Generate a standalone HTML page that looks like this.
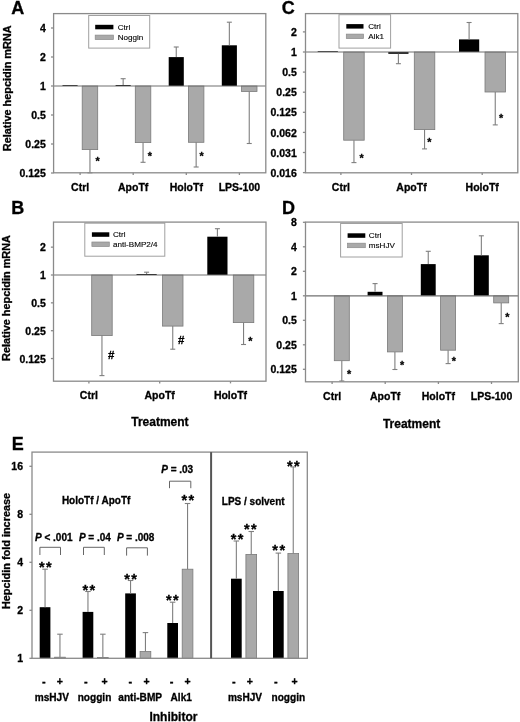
<!DOCTYPE html>
<html><head><meta charset="utf-8"><style>
html,body{margin:0;padding:0;background:#fff;}
body{width:520px;height:722px;overflow:hidden;}
svg{display:block;font-family:"Liberation Sans", sans-serif;filter:grayscale(100%);}
text{stroke:#000;stroke-width:0.3;paint-order:stroke;}
text.lg{stroke-width:0.12;}
</style></head><body>
<svg width="520" height="722" viewBox="0 0 520 722">
<rect width="520" height="722" fill="#fff"/>
<text x="11.30" y="14.20" font-size="18" text-anchor="start" font-weight="bold" font-style="normal" fill="#000">A</text>
<rect x="88.70" y="15.50" width="61.00" height="32.60" fill="#fff" stroke="#a0a0a0" stroke-width="1"/>
<rect x="95.20" y="24.80" width="18.20" height="4.50" fill="#000"/>
<rect x="95.20" y="35.10" width="18.20" height="4.50" fill="#a9a9a9" stroke="#8a8a8a" stroke-width="0.7"/>
<text x="117.70" y="29.95" font-size="8.1" text-anchor="start" font-weight="normal" font-style="normal" fill="#000" class="lg">Ctrl</text>
<text x="117.70" y="40.25" font-size="8.1" text-anchor="start" font-weight="normal" font-style="normal" fill="#000" class="lg">Noggin</text>
<text x="0" y="0" font-size="10.9" text-anchor="middle" font-weight="bold" transform="translate(11.30,88.30) rotate(-90)">Relative hepcidin mRNA</text>
<rect x="62.50" y="85.10" width="15.10" height="0.90" fill="#000"/>
<rect x="82.20" y="86.00" width="15.50" height="63.60" fill="#a9a9a9" stroke="#7a7a7a" stroke-width="0.8"/>
<line x1="89.95" y1="149.60" x2="89.95" y2="172.80" stroke="#7f7f7f" stroke-width="1.1"/>
<line x1="87.45" y1="172.80" x2="92.45" y2="172.80" stroke="#7f7f7f" stroke-width="1.1"/>
<rect x="115.60" y="85.00" width="15.10" height="1.00" fill="#000"/>
<line x1="123.15" y1="85.00" x2="123.15" y2="78.70" stroke="#7f7f7f" stroke-width="1.1"/>
<line x1="120.65" y1="78.70" x2="125.65" y2="78.70" stroke="#7f7f7f" stroke-width="1.1"/>
<rect x="135.30" y="86.00" width="15.50" height="56.60" fill="#a9a9a9" stroke="#7a7a7a" stroke-width="0.8"/>
<line x1="143.05" y1="142.60" x2="143.05" y2="162.30" stroke="#7f7f7f" stroke-width="1.1"/>
<line x1="140.55" y1="162.30" x2="145.55" y2="162.30" stroke="#7f7f7f" stroke-width="1.1"/>
<rect x="168.70" y="57.10" width="15.10" height="28.90" fill="#000"/>
<line x1="176.25" y1="57.10" x2="176.25" y2="47.00" stroke="#7f7f7f" stroke-width="1.1"/>
<line x1="173.75" y1="47.00" x2="178.75" y2="47.00" stroke="#7f7f7f" stroke-width="1.1"/>
<rect x="188.40" y="86.00" width="15.50" height="56.30" fill="#a9a9a9" stroke="#7a7a7a" stroke-width="0.8"/>
<line x1="196.15" y1="142.30" x2="196.15" y2="167.00" stroke="#7f7f7f" stroke-width="1.1"/>
<line x1="193.65" y1="167.00" x2="198.65" y2="167.00" stroke="#7f7f7f" stroke-width="1.1"/>
<rect x="221.80" y="45.30" width="15.10" height="40.70" fill="#000"/>
<line x1="229.35" y1="45.30" x2="229.35" y2="22.20" stroke="#7f7f7f" stroke-width="1.1"/>
<line x1="226.85" y1="22.20" x2="231.85" y2="22.20" stroke="#7f7f7f" stroke-width="1.1"/>
<rect x="241.50" y="86.00" width="15.50" height="5.50" fill="#a9a9a9" stroke="#7a7a7a" stroke-width="0.8"/>
<line x1="249.25" y1="91.50" x2="249.25" y2="143.50" stroke="#7f7f7f" stroke-width="1.1"/>
<line x1="246.75" y1="143.50" x2="251.75" y2="143.50" stroke="#7f7f7f" stroke-width="1.1"/>
<line x1="53.60" y1="86.00" x2="265.80" y2="86.00" stroke="#707070" stroke-width="1.2"/>
<rect x="53.60" y="13.60" width="212.20" height="159.20" fill="none" stroke="#8a8a8a" stroke-width="1.3"/>
<line x1="51.00" y1="28.00" x2="53.60" y2="28.00" stroke="#8a8a8a" stroke-width="1.3"/>
<text x="45.80" y="32.10" font-size="10.5" text-anchor="end" font-weight="bold" font-style="normal" fill="#000">4</text>
<line x1="51.00" y1="57.00" x2="53.60" y2="57.00" stroke="#8a8a8a" stroke-width="1.3"/>
<text x="45.80" y="61.10" font-size="10.5" text-anchor="end" font-weight="bold" font-style="normal" fill="#000">2</text>
<line x1="51.00" y1="86.00" x2="53.60" y2="86.00" stroke="#8a8a8a" stroke-width="1.3"/>
<text x="45.80" y="90.10" font-size="10.5" text-anchor="end" font-weight="bold" font-style="normal" fill="#000">1</text>
<line x1="51.00" y1="115.00" x2="53.60" y2="115.00" stroke="#8a8a8a" stroke-width="1.3"/>
<text x="45.80" y="119.10" font-size="10.5" text-anchor="end" font-weight="bold" font-style="normal" fill="#000">0.5</text>
<line x1="51.00" y1="144.00" x2="53.60" y2="144.00" stroke="#8a8a8a" stroke-width="1.3"/>
<text x="45.80" y="148.10" font-size="10.5" text-anchor="end" font-weight="bold" font-style="normal" fill="#000">0.25</text>
<line x1="51.00" y1="173.00" x2="53.60" y2="173.00" stroke="#8a8a8a" stroke-width="1.3"/>
<text x="45.80" y="177.10" font-size="10.5" text-anchor="end" font-weight="bold" font-style="normal" fill="#000">0.125</text>
<line x1="80.10" y1="172.80" x2="80.10" y2="175.00" stroke="#8a8a8a" stroke-width="1.3"/>
<text x="80.10" y="190.60" font-size="10.5" text-anchor="middle" font-weight="bold" font-style="normal" fill="#000">Ctrl</text>
<line x1="133.20" y1="172.80" x2="133.20" y2="175.00" stroke="#8a8a8a" stroke-width="1.3"/>
<text x="133.20" y="190.60" font-size="10.5" text-anchor="middle" font-weight="bold" font-style="normal" fill="#000">ApoTf</text>
<line x1="186.30" y1="172.80" x2="186.30" y2="175.00" stroke="#8a8a8a" stroke-width="1.3"/>
<text x="186.30" y="190.60" font-size="10.5" text-anchor="middle" font-weight="bold" font-style="normal" fill="#000">HoloTf</text>
<line x1="239.40" y1="172.80" x2="239.40" y2="175.00" stroke="#8a8a8a" stroke-width="1.3"/>
<text x="239.40" y="190.60" font-size="10.5" text-anchor="middle" font-weight="bold" font-style="normal" fill="#000">LPS-100</text>
<text x="97.70" y="164.92" font-size="10.8" text-anchor="middle" font-weight="bold" font-style="normal" fill="#000">*</text>
<text x="149.80" y="159.62" font-size="10.8" text-anchor="middle" font-weight="bold" font-style="normal" fill="#000">*</text>
<text x="201.70" y="160.42" font-size="10.8" text-anchor="middle" font-weight="bold" font-style="normal" fill="#000">*</text>
<text x="281.80" y="14.00" font-size="18" text-anchor="start" font-weight="bold" font-style="normal" fill="#000">C</text>
<rect x="339.00" y="14.70" width="51.60" height="33.40" fill="#fff" stroke="#a0a0a0" stroke-width="1"/>
<rect x="346.30" y="24.10" width="17.20" height="4.50" fill="#000"/>
<rect x="346.30" y="34.10" width="17.20" height="4.50" fill="#a9a9a9" stroke="#8a8a8a" stroke-width="0.7"/>
<text x="368.20" y="29.25" font-size="8.1" text-anchor="start" font-weight="normal" font-style="normal" fill="#000" class="lg">Ctrl</text>
<text x="368.20" y="39.25" font-size="8.1" text-anchor="start" font-weight="normal" font-style="normal" fill="#000" class="lg">Alk1</text>
<rect x="317.70" y="51.20" width="20.20" height="0.80" fill="#000"/>
<rect x="343.70" y="52.00" width="20.50" height="88.20" fill="#a9a9a9" stroke="#7a7a7a" stroke-width="0.8"/>
<line x1="353.95" y1="140.20" x2="353.95" y2="162.60" stroke="#7f7f7f" stroke-width="1.1"/>
<line x1="351.45" y1="162.60" x2="356.45" y2="162.60" stroke="#7f7f7f" stroke-width="1.1"/>
<rect x="388.30" y="52.00" width="20.20" height="1.80" fill="#000"/>
<line x1="398.40" y1="53.80" x2="398.40" y2="63.70" stroke="#7f7f7f" stroke-width="1.1"/>
<line x1="395.90" y1="63.70" x2="400.90" y2="63.70" stroke="#7f7f7f" stroke-width="1.1"/>
<rect x="414.30" y="52.00" width="20.50" height="77.60" fill="#a9a9a9" stroke="#7a7a7a" stroke-width="0.8"/>
<line x1="424.55" y1="129.60" x2="424.55" y2="148.90" stroke="#7f7f7f" stroke-width="1.1"/>
<line x1="422.05" y1="148.90" x2="427.05" y2="148.90" stroke="#7f7f7f" stroke-width="1.1"/>
<rect x="459.00" y="39.40" width="20.20" height="12.60" fill="#000"/>
<line x1="469.10" y1="39.40" x2="469.10" y2="22.50" stroke="#7f7f7f" stroke-width="1.1"/>
<line x1="466.60" y1="22.50" x2="471.60" y2="22.50" stroke="#7f7f7f" stroke-width="1.1"/>
<rect x="485.00" y="52.00" width="20.50" height="40.00" fill="#a9a9a9" stroke="#7a7a7a" stroke-width="0.8"/>
<line x1="495.25" y1="92.00" x2="495.25" y2="124.90" stroke="#7f7f7f" stroke-width="1.1"/>
<line x1="492.75" y1="124.90" x2="497.75" y2="124.90" stroke="#7f7f7f" stroke-width="1.1"/>
<line x1="305.50" y1="52.00" x2="517.80" y2="52.00" stroke="#707070" stroke-width="1.2"/>
<rect x="305.50" y="13.60" width="212.30" height="159.20" fill="none" stroke="#8a8a8a" stroke-width="1.3"/>
<line x1="302.90" y1="31.90" x2="305.50" y2="31.90" stroke="#8a8a8a" stroke-width="1.3"/>
<text x="296.80" y="36.00" font-size="10.5" text-anchor="end" font-weight="bold" font-style="normal" fill="#000">2</text>
<line x1="302.90" y1="52.00" x2="305.50" y2="52.00" stroke="#8a8a8a" stroke-width="1.3"/>
<text x="296.80" y="56.10" font-size="10.5" text-anchor="end" font-weight="bold" font-style="normal" fill="#000">1</text>
<line x1="302.90" y1="72.10" x2="305.50" y2="72.10" stroke="#8a8a8a" stroke-width="1.3"/>
<text x="296.80" y="76.20" font-size="10.5" text-anchor="end" font-weight="bold" font-style="normal" fill="#000">0.5</text>
<line x1="302.90" y1="92.20" x2="305.50" y2="92.20" stroke="#8a8a8a" stroke-width="1.3"/>
<text x="296.80" y="96.30" font-size="10.5" text-anchor="end" font-weight="bold" font-style="normal" fill="#000">0.25</text>
<line x1="302.90" y1="112.30" x2="305.50" y2="112.30" stroke="#8a8a8a" stroke-width="1.3"/>
<text x="296.80" y="116.40" font-size="10.5" text-anchor="end" font-weight="bold" font-style="normal" fill="#000">0.125</text>
<line x1="302.90" y1="132.40" x2="305.50" y2="132.40" stroke="#8a8a8a" stroke-width="1.3"/>
<text x="296.80" y="136.50" font-size="10.5" text-anchor="end" font-weight="bold" font-style="normal" fill="#000">0.062</text>
<line x1="302.90" y1="152.50" x2="305.50" y2="152.50" stroke="#8a8a8a" stroke-width="1.3"/>
<text x="296.80" y="156.60" font-size="10.5" text-anchor="end" font-weight="bold" font-style="normal" fill="#000">0.031</text>
<line x1="302.90" y1="172.60" x2="305.50" y2="172.60" stroke="#8a8a8a" stroke-width="1.3"/>
<text x="296.80" y="176.70" font-size="10.5" text-anchor="end" font-weight="bold" font-style="normal" fill="#000">0.016</text>
<line x1="340.90" y1="172.80" x2="340.90" y2="175.00" stroke="#8a8a8a" stroke-width="1.3"/>
<text x="340.90" y="190.60" font-size="10.5" text-anchor="middle" font-weight="bold" font-style="normal" fill="#000">Ctrl</text>
<line x1="411.50" y1="172.80" x2="411.50" y2="175.00" stroke="#8a8a8a" stroke-width="1.3"/>
<text x="411.50" y="190.60" font-size="10.5" text-anchor="middle" font-weight="bold" font-style="normal" fill="#000">ApoTf</text>
<line x1="482.20" y1="172.80" x2="482.20" y2="175.00" stroke="#8a8a8a" stroke-width="1.3"/>
<text x="482.20" y="190.60" font-size="10.5" text-anchor="middle" font-weight="bold" font-style="normal" fill="#000">HoloTf</text>
<text x="361.60" y="161.92" font-size="10.8" text-anchor="middle" font-weight="bold" font-style="normal" fill="#000">*</text>
<text x="429.40" y="146.12" font-size="10.8" text-anchor="middle" font-weight="bold" font-style="normal" fill="#000">*</text>
<text x="501.20" y="121.82" font-size="10.8" text-anchor="middle" font-weight="bold" font-style="normal" fill="#000">*</text>
<text x="11.20" y="214.10" font-size="18" text-anchor="start" font-weight="bold" font-style="normal" fill="#000">B</text>
<rect x="84.80" y="223.20" width="80.00" height="33.00" fill="#fff" stroke="#a0a0a0" stroke-width="1"/>
<rect x="91.90" y="232.30" width="17.40" height="4.50" fill="#000"/>
<rect x="91.90" y="242.00" width="17.40" height="4.50" fill="#a9a9a9" stroke="#8a8a8a" stroke-width="0.7"/>
<text x="113.00" y="237.45" font-size="8.1" text-anchor="start" font-weight="normal" font-style="normal" fill="#000" class="lg">Ctrl</text>
<text x="113.00" y="247.15" font-size="8.1" text-anchor="start" font-weight="normal" font-style="normal" fill="#000" class="lg">anti-BMP2/4</text>
<text x="0" y="0" font-size="10.9" text-anchor="middle" font-weight="bold" transform="translate(9.90,298.00) rotate(-90)">Relative hepcidin mRNA</text>
<rect x="91.70" y="275.00" width="20.50" height="60.60" fill="#a9a9a9" stroke="#7a7a7a" stroke-width="0.8"/>
<line x1="101.95" y1="335.60" x2="101.95" y2="375.60" stroke="#7f7f7f" stroke-width="1.1"/>
<line x1="99.45" y1="375.60" x2="104.45" y2="375.60" stroke="#7f7f7f" stroke-width="1.1"/>
<rect x="136.50" y="274.00" width="20.20" height="1.00" fill="#000"/>
<line x1="146.60" y1="274.00" x2="146.60" y2="272.20" stroke="#7f7f7f" stroke-width="1.1"/>
<line x1="144.10" y1="272.20" x2="149.10" y2="272.20" stroke="#7f7f7f" stroke-width="1.1"/>
<rect x="162.50" y="275.00" width="20.50" height="51.10" fill="#a9a9a9" stroke="#7a7a7a" stroke-width="0.8"/>
<line x1="172.75" y1="326.10" x2="172.75" y2="349.20" stroke="#7f7f7f" stroke-width="1.1"/>
<line x1="170.25" y1="349.20" x2="175.25" y2="349.20" stroke="#7f7f7f" stroke-width="1.1"/>
<rect x="207.30" y="236.70" width="20.20" height="38.30" fill="#000"/>
<line x1="217.40" y1="236.70" x2="217.40" y2="228.70" stroke="#7f7f7f" stroke-width="1.1"/>
<line x1="214.90" y1="228.70" x2="219.90" y2="228.70" stroke="#7f7f7f" stroke-width="1.1"/>
<rect x="233.30" y="275.00" width="20.50" height="47.60" fill="#a9a9a9" stroke="#7a7a7a" stroke-width="0.8"/>
<line x1="243.55" y1="322.60" x2="243.55" y2="344.50" stroke="#7f7f7f" stroke-width="1.1"/>
<line x1="241.05" y1="344.50" x2="246.05" y2="344.50" stroke="#7f7f7f" stroke-width="1.1"/>
<line x1="53.50" y1="275.00" x2="266.00" y2="275.00" stroke="#707070" stroke-width="1.2"/>
<rect x="53.50" y="222.10" width="212.50" height="159.10" fill="none" stroke="#8a8a8a" stroke-width="1.3"/>
<line x1="50.90" y1="247.15" x2="53.50" y2="247.15" stroke="#8a8a8a" stroke-width="1.3"/>
<text x="45.80" y="251.25" font-size="10.5" text-anchor="end" font-weight="bold" font-style="normal" fill="#000">2</text>
<line x1="50.90" y1="275.00" x2="53.50" y2="275.00" stroke="#8a8a8a" stroke-width="1.3"/>
<text x="45.80" y="279.10" font-size="10.5" text-anchor="end" font-weight="bold" font-style="normal" fill="#000">1</text>
<line x1="50.90" y1="302.85" x2="53.50" y2="302.85" stroke="#8a8a8a" stroke-width="1.3"/>
<text x="45.80" y="306.95" font-size="10.5" text-anchor="end" font-weight="bold" font-style="normal" fill="#000">0.5</text>
<line x1="50.90" y1="330.70" x2="53.50" y2="330.70" stroke="#8a8a8a" stroke-width="1.3"/>
<text x="45.80" y="334.80" font-size="10.5" text-anchor="end" font-weight="bold" font-style="normal" fill="#000">0.25</text>
<line x1="50.90" y1="358.55" x2="53.50" y2="358.55" stroke="#8a8a8a" stroke-width="1.3"/>
<text x="45.80" y="362.65" font-size="10.5" text-anchor="end" font-weight="bold" font-style="normal" fill="#000">0.125</text>
<line x1="88.90" y1="381.20" x2="88.90" y2="383.40" stroke="#8a8a8a" stroke-width="1.3"/>
<text x="88.90" y="399.40" font-size="10.5" text-anchor="middle" font-weight="bold" font-style="normal" fill="#000">Ctrl</text>
<line x1="159.70" y1="381.20" x2="159.70" y2="383.40" stroke="#8a8a8a" stroke-width="1.3"/>
<text x="159.70" y="399.40" font-size="10.5" text-anchor="middle" font-weight="bold" font-style="normal" fill="#000">ApoTf</text>
<line x1="230.50" y1="381.20" x2="230.50" y2="383.40" stroke="#8a8a8a" stroke-width="1.3"/>
<text x="230.50" y="399.40" font-size="10.5" text-anchor="middle" font-weight="bold" font-style="normal" fill="#000">HoloTf</text>
<text x="111.20" y="358.81" font-size="11.5" text-anchor="middle" font-weight="bold" font-style="normal" fill="#000">#</text>
<text x="181.20" y="343.61" font-size="11.5" text-anchor="middle" font-weight="bold" font-style="normal" fill="#000">#</text>
<text x="250.40" y="344.72" font-size="10.8" text-anchor="middle" font-weight="bold" font-style="normal" fill="#000">*</text>
<text x="159.90" y="426.30" font-size="12" text-anchor="middle" font-weight="bold" font-style="normal" fill="#000">Treatment</text>
<text x="281.90" y="213.90" font-size="18" text-anchor="start" font-weight="bold" font-style="normal" fill="#000">D</text>
<rect x="340.60" y="223.50" width="61.60" height="33.50" fill="#fff" stroke="#a0a0a0" stroke-width="1"/>
<rect x="347.60" y="233.30" width="17.70" height="4.50" fill="#000"/>
<rect x="347.60" y="243.20" width="17.70" height="4.50" fill="#a9a9a9" stroke="#8a8a8a" stroke-width="0.7"/>
<text x="368.80" y="238.45" font-size="8.1" text-anchor="start" font-weight="normal" font-style="normal" fill="#000" class="lg">Ctrl</text>
<text x="368.80" y="248.35" font-size="8.1" text-anchor="start" font-weight="normal" font-style="normal" fill="#000" class="lg">msHJV</text>
<rect x="334.30" y="295.80" width="15.00" height="64.90" fill="#a9a9a9" stroke="#7a7a7a" stroke-width="0.8"/>
<line x1="341.80" y1="360.70" x2="341.80" y2="381.00" stroke="#7f7f7f" stroke-width="1.1"/>
<line x1="339.30" y1="381.00" x2="344.30" y2="381.00" stroke="#7f7f7f" stroke-width="1.1"/>
<rect x="367.60" y="291.80" width="14.90" height="4.00" fill="#000"/>
<line x1="375.05" y1="291.80" x2="375.05" y2="283.60" stroke="#7f7f7f" stroke-width="1.1"/>
<line x1="372.55" y1="283.60" x2="377.55" y2="283.60" stroke="#7f7f7f" stroke-width="1.1"/>
<rect x="387.40" y="295.80" width="15.00" height="56.10" fill="#a9a9a9" stroke="#7a7a7a" stroke-width="0.8"/>
<line x1="394.90" y1="351.90" x2="394.90" y2="369.50" stroke="#7f7f7f" stroke-width="1.1"/>
<line x1="392.40" y1="369.50" x2="397.40" y2="369.50" stroke="#7f7f7f" stroke-width="1.1"/>
<rect x="420.80" y="264.10" width="14.90" height="31.70" fill="#000"/>
<line x1="428.25" y1="264.10" x2="428.25" y2="251.30" stroke="#7f7f7f" stroke-width="1.1"/>
<line x1="425.75" y1="251.30" x2="430.75" y2="251.30" stroke="#7f7f7f" stroke-width="1.1"/>
<rect x="440.60" y="295.80" width="15.00" height="54.40" fill="#a9a9a9" stroke="#7a7a7a" stroke-width="0.8"/>
<line x1="448.10" y1="350.20" x2="448.10" y2="363.60" stroke="#7f7f7f" stroke-width="1.1"/>
<line x1="445.60" y1="363.60" x2="450.60" y2="363.60" stroke="#7f7f7f" stroke-width="1.1"/>
<rect x="473.90" y="255.30" width="14.90" height="40.50" fill="#000"/>
<line x1="481.35" y1="255.30" x2="481.35" y2="235.80" stroke="#7f7f7f" stroke-width="1.1"/>
<line x1="478.85" y1="235.80" x2="483.85" y2="235.80" stroke="#7f7f7f" stroke-width="1.1"/>
<rect x="493.70" y="295.80" width="15.00" height="7.10" fill="#a9a9a9" stroke="#7a7a7a" stroke-width="0.8"/>
<line x1="501.20" y1="302.90" x2="501.20" y2="323.60" stroke="#7f7f7f" stroke-width="1.1"/>
<line x1="498.70" y1="323.60" x2="503.70" y2="323.60" stroke="#7f7f7f" stroke-width="1.1"/>
<line x1="305.50" y1="295.80" x2="518.30" y2="295.80" stroke="#707070" stroke-width="1.2"/>
<rect x="305.50" y="222.10" width="212.80" height="159.70" fill="none" stroke="#8a8a8a" stroke-width="1.3"/>
<line x1="302.90" y1="222.30" x2="305.50" y2="222.30" stroke="#8a8a8a" stroke-width="1.3"/>
<text x="296.80" y="226.40" font-size="10.5" text-anchor="end" font-weight="bold" font-style="normal" fill="#000">8</text>
<line x1="302.90" y1="246.80" x2="305.50" y2="246.80" stroke="#8a8a8a" stroke-width="1.3"/>
<text x="296.80" y="250.90" font-size="10.5" text-anchor="end" font-weight="bold" font-style="normal" fill="#000">4</text>
<line x1="302.90" y1="271.30" x2="305.50" y2="271.30" stroke="#8a8a8a" stroke-width="1.3"/>
<text x="296.80" y="275.40" font-size="10.5" text-anchor="end" font-weight="bold" font-style="normal" fill="#000">2</text>
<line x1="302.90" y1="295.80" x2="305.50" y2="295.80" stroke="#8a8a8a" stroke-width="1.3"/>
<text x="296.80" y="299.90" font-size="10.5" text-anchor="end" font-weight="bold" font-style="normal" fill="#000">1</text>
<line x1="302.90" y1="320.30" x2="305.50" y2="320.30" stroke="#8a8a8a" stroke-width="1.3"/>
<text x="296.80" y="324.40" font-size="10.5" text-anchor="end" font-weight="bold" font-style="normal" fill="#000">0.5</text>
<line x1="302.90" y1="344.80" x2="305.50" y2="344.80" stroke="#8a8a8a" stroke-width="1.3"/>
<text x="296.80" y="348.90" font-size="10.5" text-anchor="end" font-weight="bold" font-style="normal" fill="#000">0.25</text>
<line x1="302.90" y1="369.30" x2="305.50" y2="369.30" stroke="#8a8a8a" stroke-width="1.3"/>
<text x="296.80" y="373.40" font-size="10.5" text-anchor="end" font-weight="bold" font-style="normal" fill="#000">0.125</text>
<line x1="332.10" y1="381.80" x2="332.10" y2="384.00" stroke="#8a8a8a" stroke-width="1.3"/>
<text x="332.10" y="400.00" font-size="10.5" text-anchor="middle" font-weight="bold" font-style="normal" fill="#000">Ctrl</text>
<line x1="385.20" y1="381.80" x2="385.20" y2="384.00" stroke="#8a8a8a" stroke-width="1.3"/>
<text x="385.20" y="400.00" font-size="10.5" text-anchor="middle" font-weight="bold" font-style="normal" fill="#000">ApoTf</text>
<line x1="438.40" y1="381.80" x2="438.40" y2="384.00" stroke="#8a8a8a" stroke-width="1.3"/>
<text x="438.40" y="400.00" font-size="10.5" text-anchor="middle" font-weight="bold" font-style="normal" fill="#000">HoloTf</text>
<line x1="491.50" y1="381.80" x2="491.50" y2="384.00" stroke="#8a8a8a" stroke-width="1.3"/>
<text x="491.50" y="400.00" font-size="10.5" text-anchor="middle" font-weight="bold" font-style="normal" fill="#000">LPS-100</text>
<text x="349.00" y="377.72" font-size="10.8" text-anchor="middle" font-weight="bold" font-style="normal" fill="#000">*</text>
<text x="402.20" y="368.62" font-size="10.8" text-anchor="middle" font-weight="bold" font-style="normal" fill="#000">*</text>
<text x="453.80" y="365.02" font-size="10.8" text-anchor="middle" font-weight="bold" font-style="normal" fill="#000">*</text>
<text x="507.30" y="320.82" font-size="10.8" text-anchor="middle" font-weight="bold" font-style="normal" fill="#000">*</text>
<text x="411.60" y="427.90" font-size="12" text-anchor="middle" font-weight="bold" font-style="normal" fill="#000">Treatment</text>
<text x="11.80" y="450.40" font-size="18" text-anchor="start" font-weight="bold" font-style="normal" fill="#000">E</text>
<text x="0" y="0" font-size="10.9" text-anchor="middle" font-weight="bold" transform="translate(10.00,551.00) rotate(-90)">Hepcidin fold increase</text>
<rect x="39.70" y="607.20" width="10.70" height="51.10" fill="#000"/>
<line x1="45.05" y1="607.20" x2="45.05" y2="569.20" stroke="#7f7f7f" stroke-width="1.1"/>
<line x1="42.30" y1="569.20" x2="47.80" y2="569.20" stroke="#7f7f7f" stroke-width="1.1"/>
<rect x="54.60" y="657.20" width="10.70" height="1.10" fill="#a9a9a9" stroke="#7a7a7a" stroke-width="0.8"/>
<line x1="59.95" y1="657.20" x2="59.95" y2="634.20" stroke="#7f7f7f" stroke-width="1.1"/>
<line x1="57.20" y1="634.20" x2="62.70" y2="634.20" stroke="#7f7f7f" stroke-width="1.1"/>
<rect x="82.60" y="611.90" width="10.70" height="46.40" fill="#000"/>
<line x1="87.95" y1="611.90" x2="87.95" y2="591.50" stroke="#7f7f7f" stroke-width="1.1"/>
<line x1="85.20" y1="591.50" x2="90.70" y2="591.50" stroke="#7f7f7f" stroke-width="1.1"/>
<rect x="97.50" y="657.40" width="10.70" height="0.90" fill="#a9a9a9" stroke="#7a7a7a" stroke-width="0.8"/>
<line x1="102.85" y1="657.40" x2="102.85" y2="634.20" stroke="#7f7f7f" stroke-width="1.1"/>
<line x1="100.10" y1="634.20" x2="105.60" y2="634.20" stroke="#7f7f7f" stroke-width="1.1"/>
<rect x="125.20" y="593.40" width="10.70" height="64.90" fill="#000"/>
<line x1="130.55" y1="593.40" x2="130.55" y2="580.50" stroke="#7f7f7f" stroke-width="1.1"/>
<line x1="127.80" y1="580.50" x2="133.30" y2="580.50" stroke="#7f7f7f" stroke-width="1.1"/>
<rect x="140.10" y="651.50" width="10.70" height="6.80" fill="#a9a9a9" stroke="#7a7a7a" stroke-width="0.8"/>
<line x1="145.45" y1="651.50" x2="145.45" y2="632.60" stroke="#7f7f7f" stroke-width="1.1"/>
<line x1="142.70" y1="632.60" x2="148.20" y2="632.60" stroke="#7f7f7f" stroke-width="1.1"/>
<rect x="167.30" y="623.00" width="10.70" height="35.30" fill="#000"/>
<line x1="172.65" y1="623.00" x2="172.65" y2="602.20" stroke="#7f7f7f" stroke-width="1.1"/>
<line x1="169.90" y1="602.20" x2="175.40" y2="602.20" stroke="#7f7f7f" stroke-width="1.1"/>
<rect x="182.20" y="569.20" width="10.70" height="89.10" fill="#a9a9a9" stroke="#7a7a7a" stroke-width="0.8"/>
<line x1="187.55" y1="569.20" x2="187.55" y2="503.50" stroke="#7f7f7f" stroke-width="1.1"/>
<line x1="184.80" y1="503.50" x2="190.30" y2="503.50" stroke="#7f7f7f" stroke-width="1.1"/>
<rect x="231.00" y="578.70" width="10.70" height="79.60" fill="#000"/>
<line x1="236.35" y1="578.70" x2="236.35" y2="541.00" stroke="#7f7f7f" stroke-width="1.1"/>
<line x1="233.60" y1="541.00" x2="239.10" y2="541.00" stroke="#7f7f7f" stroke-width="1.1"/>
<rect x="245.90" y="554.40" width="10.70" height="103.90" fill="#a9a9a9" stroke="#7a7a7a" stroke-width="0.8"/>
<line x1="251.25" y1="554.40" x2="251.25" y2="531.50" stroke="#7f7f7f" stroke-width="1.1"/>
<line x1="248.50" y1="531.50" x2="254.00" y2="531.50" stroke="#7f7f7f" stroke-width="1.1"/>
<rect x="273.00" y="591.00" width="10.70" height="67.30" fill="#000"/>
<line x1="278.35" y1="591.00" x2="278.35" y2="553.10" stroke="#7f7f7f" stroke-width="1.1"/>
<line x1="275.60" y1="553.10" x2="281.10" y2="553.10" stroke="#7f7f7f" stroke-width="1.1"/>
<rect x="287.90" y="553.60" width="10.70" height="104.70" fill="#a9a9a9" stroke="#7a7a7a" stroke-width="0.8"/>
<line x1="293.25" y1="553.60" x2="293.25" y2="466.90" stroke="#7f7f7f" stroke-width="1.1"/>
<line x1="290.50" y1="466.90" x2="296.00" y2="466.90" stroke="#7f7f7f" stroke-width="1.1"/>
<rect x="32.00" y="452.10" width="275.30" height="206.20" fill="none" stroke="#8a8a8a" stroke-width="1.3"/>
<line x1="211.10" y1="452.10" x2="211.10" y2="658.30" stroke="#555" stroke-width="2.0"/>
<line x1="29.40" y1="466.30" x2="32.00" y2="466.30" stroke="#8a8a8a" stroke-width="1.3"/>
<text x="23.00" y="470.10" font-size="10.5" text-anchor="end" font-weight="bold" font-style="normal" fill="#000">16</text>
<line x1="29.40" y1="514.30" x2="32.00" y2="514.30" stroke="#8a8a8a" stroke-width="1.3"/>
<text x="23.00" y="518.10" font-size="10.5" text-anchor="end" font-weight="bold" font-style="normal" fill="#000">8</text>
<line x1="29.40" y1="562.30" x2="32.00" y2="562.30" stroke="#8a8a8a" stroke-width="1.3"/>
<text x="23.00" y="566.10" font-size="10.5" text-anchor="end" font-weight="bold" font-style="normal" fill="#000">4</text>
<line x1="29.40" y1="610.30" x2="32.00" y2="610.30" stroke="#8a8a8a" stroke-width="1.3"/>
<text x="23.00" y="614.10" font-size="10.5" text-anchor="end" font-weight="bold" font-style="normal" fill="#000">2</text>
<line x1="29.40" y1="658.30" x2="32.00" y2="658.30" stroke="#8a8a8a" stroke-width="1.3"/>
<text x="23.00" y="662.10" font-size="10.5" text-anchor="end" font-weight="bold" font-style="normal" fill="#000">1</text>
<text x="46.00" y="571.68" font-size="14.5" text-anchor="middle" font-weight="bold" font-style="normal" fill="#000" letter-spacing="1.4">**</text>
<text x="89.50" y="594.88" font-size="14.5" text-anchor="middle" font-weight="bold" font-style="normal" fill="#000" letter-spacing="1.4">**</text>
<text x="131.30" y="583.58" font-size="14.5" text-anchor="middle" font-weight="bold" font-style="normal" fill="#000" letter-spacing="1.4">**</text>
<text x="173.00" y="604.58" font-size="14.5" text-anchor="middle" font-weight="bold" font-style="normal" fill="#000" letter-spacing="1.4">**</text>
<text x="188.60" y="505.18" font-size="14.5" text-anchor="middle" font-weight="bold" font-style="normal" fill="#000" letter-spacing="1.4">**</text>
<text x="237.80" y="543.78" font-size="14.5" text-anchor="middle" font-weight="bold" font-style="normal" fill="#000" letter-spacing="1.4">**</text>
<text x="251.00" y="534.38" font-size="14.5" text-anchor="middle" font-weight="bold" font-style="normal" fill="#000" letter-spacing="1.4">**</text>
<text x="279.40" y="555.28" font-size="14.5" text-anchor="middle" font-weight="bold" font-style="normal" fill="#000" letter-spacing="1.4">**</text>
<text x="294.10" y="471.28" font-size="14.5" text-anchor="middle" font-weight="bold" font-style="normal" fill="#000" letter-spacing="1.4">**</text>
<polyline points="39.90,555.00 39.90,547.30 60.50,547.30 60.50,555.00" fill="none" stroke="#666" stroke-width="1"/>
<polyline points="83.50,555.00 83.50,547.30 104.30,547.30 104.30,555.00" fill="none" stroke="#666" stroke-width="1"/>
<polyline points="126.60,555.60 126.60,547.80 147.40,547.80 147.40,555.60" fill="none" stroke="#666" stroke-width="1"/>
<polyline points="169.50,488.20 169.50,481.20 190.80,481.20 190.80,488.20" fill="none" stroke="#666" stroke-width="1"/>
<text x="35.00" y="540.80" font-size="10" font-weight="bold"><tspan font-style="italic">P</tspan> &lt; .001</text>
<text x="78.90" y="540.80" font-size="10" font-weight="bold"><tspan font-style="italic">P</tspan> = .04</text>
<text x="116.90" y="541.20" font-size="10" font-weight="bold"><tspan font-style="italic">P</tspan> = .008</text>
<text x="161.20" y="472.60" font-size="10" font-weight="bold"><tspan font-style="italic">P</tspan> = .03</text>
<text x="61.90" y="503.50" font-size="10" text-anchor="start" font-weight="bold" font-style="normal" fill="#000">HoloTf / ApoTf</text>
<text x="253.20" y="505.40" font-size="10" text-anchor="middle" font-weight="bold" font-style="normal" fill="#000">LPS / solvent</text>
<text x="43.90" y="685.36" font-size="11" text-anchor="middle" font-weight="bold" font-style="normal" fill="#000">-</text>
<text x="59.90" y="684.87" font-size="10.5" text-anchor="middle" font-weight="bold" font-style="normal" fill="#000">+</text>
<text x="85.80" y="685.36" font-size="11" text-anchor="middle" font-weight="bold" font-style="normal" fill="#000">-</text>
<text x="104.50" y="684.87" font-size="10.5" text-anchor="middle" font-weight="bold" font-style="normal" fill="#000">+</text>
<text x="130.40" y="685.36" font-size="11" text-anchor="middle" font-weight="bold" font-style="normal" fill="#000">-</text>
<text x="146.50" y="684.87" font-size="10.5" text-anchor="middle" font-weight="bold" font-style="normal" fill="#000">+</text>
<text x="171.60" y="685.36" font-size="11" text-anchor="middle" font-weight="bold" font-style="normal" fill="#000">-</text>
<text x="187.60" y="684.87" font-size="10.5" text-anchor="middle" font-weight="bold" font-style="normal" fill="#000">+</text>
<text x="233.80" y="685.36" font-size="11" text-anchor="middle" font-weight="bold" font-style="normal" fill="#000">-</text>
<text x="249.80" y="684.87" font-size="10.5" text-anchor="middle" font-weight="bold" font-style="normal" fill="#000">+</text>
<text x="275.80" y="685.36" font-size="11" text-anchor="middle" font-weight="bold" font-style="normal" fill="#000">-</text>
<text x="294.60" y="684.87" font-size="10.5" text-anchor="middle" font-weight="bold" font-style="normal" fill="#000">+</text>
<text x="51.80" y="700.50" font-size="10.1" text-anchor="middle" font-weight="bold" font-style="normal" fill="#000">msHJV</text>
<text x="94.50" y="700.50" font-size="10.1" text-anchor="middle" font-weight="bold" font-style="normal" fill="#000">noggin</text>
<text x="140.20" y="700.50" font-size="10.1" text-anchor="middle" font-weight="bold" font-style="normal" fill="#000">anti-BMP</text>
<text x="181.20" y="700.50" font-size="10.1" text-anchor="middle" font-weight="bold" font-style="normal" fill="#000">Alk1</text>
<text x="245.00" y="700.50" font-size="10.1" text-anchor="middle" font-weight="bold" font-style="normal" fill="#000">msHJV</text>
<text x="288.30" y="700.50" font-size="10.1" text-anchor="middle" font-weight="bold" font-style="normal" fill="#000">noggin</text>
<text x="173.40" y="720.60" font-size="12" text-anchor="middle" font-weight="bold" font-style="normal" fill="#000">Inhibitor</text>
</svg>
</body></html>
